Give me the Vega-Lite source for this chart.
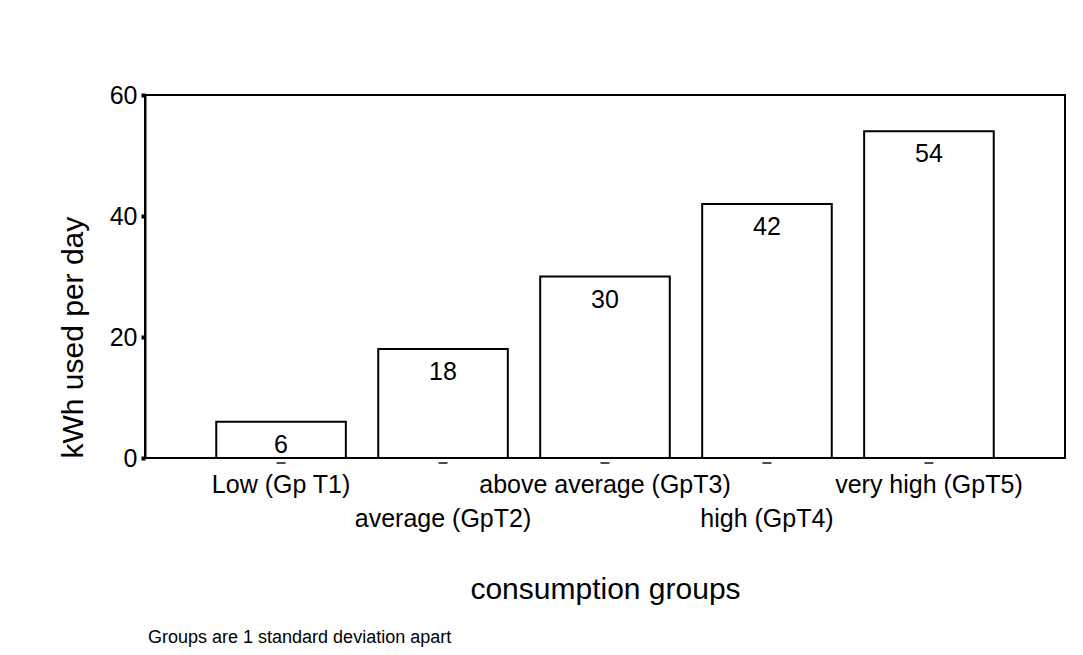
{
  "$schema": "https://vega.github.io/schema/vega-lite/v6.json",
  "autosize": {"type": "none"},
  "width": 920,
  "height": 363,
  "padding": {"left": 145, "top": 95, "right": 18, "bottom": 197},
  "background": "white",
  "config": {
    "font": "Liberation Sans",
    "view": {"stroke": "black", "strokeWidth": 2},
    "axis": {"labelColor": "black", "titleColor": "black", "labelFont": "Liberation Sans", "titleFont": "Liberation Sans", "titleFontWeight": "normal", "grid": false}
  },
  "title": {
    "text": "Groups are 1 standard deviation apart",
    "orient": "bottom",
    "anchor": "start",
    "frame": "group",
    "fontSize": 18,
    "fontWeight": "normal",
    "font": "Liberation Sans",
    "color": "black",
    "offset": 25,
    "dx": 3
  },
  "data": {
    "values": [
      {"group": "Low (Gp T1)", "kwh": 6},
      {"group": "average (GpT2)", "kwh": 18},
      {"group": "above average (GpT3)", "kwh": 30},
      {"group": "high (GpT4)", "kwh": 42},
      {"group": "very high (GpT5)", "kwh": 54}
    ]
  },
  "encoding": {
    "x": {
      "field": "group",
      "type": "nominal",
      "sort": null,
      "scale": {"paddingInner": 0.2, "paddingOuter": 0.44},
      "axis": {
        "title": "consumption groups",
        "titleFontSize": 30,
        "titlePadding": 43,
        "labelFontSize": 25,
        "labelAngle": 0,
        "labelPadding": 14,
        "labelLineHeight": 34,
        "labelLimit": 400,
        "labelExpr": "(datum.value == 'average (GpT2)' || datum.value == 'high (GpT4)') ? ['', datum.value] : datum.value",
        "ticks": false,
        "domain": false,
        "labelOverlap": false
      }
    }
  },
  "layer": [
    {
      "mark": {"type": "bar", "fill": "white", "stroke": "black", "strokeWidth": 2},
      "encoding": {
        "y": {
          "field": "kwh",
          "type": "quantitative",
          "scale": {"domain": [0, 60], "nice": false},
          "axis": {
            "title": "kWh used per day",
            "titleFontSize": 30,
            "titlePadding": 21,
            "titleAnchor": "start",
            "labelFontSize": 25,
            "labelPadding": 4,
            "values": [0, 20, 40, 60],
            "tickSize": 4,
            "tickWidth": 4,
            "tickColor": "black",
            "domainColor": "black",
            "domainWidth": 2
          }
        }
      }
    },
    {
      "mark": {"type": "text", "fontSize": 25, "baseline": "middle", "dy": 23, "color": "black", "font": "Liberation Sans"},
      "encoding": {
        "y": {"field": "kwh", "type": "quantitative"},
        "text": {"field": "kwh", "type": "quantitative"}
      }
    },
    {
      "mark": {"type": "tick", "color": "black", "size": 9, "thickness": 2, "yOffset": 5},
      "encoding": {
        "y": {"datum": 0, "type": "quantitative"}
      }
    }
  ]
}
